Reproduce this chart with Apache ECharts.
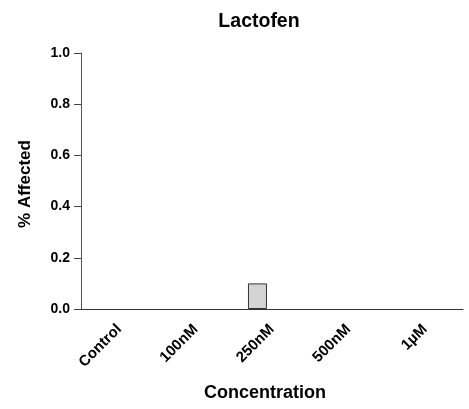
<!DOCTYPE html>
<html><head><meta charset="utf-8">
<script src="https://cdn.jsdelivr.net/npm/echarts@6/dist/echarts.min.js"></script>
<style>html,body{margin:0;padding:0;background:#fff}#c{width:469px;height:409px}</style>
</head><body><div id="c"></div>
<script>
const categories = ['Control', '100nM', '250nM', '500nM', '1µM'];
const affected = [0, 0, 0.1, 0, 0];
const companion = [0, 0, 0, 0, 0];
const yTicks = [0, 0.2, 0.4, 0.6, 0.8, 1.0];

const font = 'Liberation Sans, Arial, sans-serif';
const toItems = arr => arr.map(v => ({ value: v, itemStyle: { borderWidth: v === 0 ? 0 : 1 } }));
const chart = echarts.init(document.getElementById('c'));
chart.setOption({
  animation: false,
  title: {
    text: 'Lactofen', left: 254, top: 7, textAlign: 'center',
    textStyle: { fontFamily: font, fontWeight: 'bold', fontSize: 19.5, color: '#000' }
  },
  grid: { left: 81, right: 6, top: 53, bottom: 100 },
  xAxis: {
    type: 'category', data: categories,
    name: 'Concentration', nameLocation: 'middle', nameGap: 75,
    nameTextStyle: { fontFamily: font, fontWeight: 'bold', fontSize: 18, color: '#000', padding: [0, 0, 0, -14] },
    axisLine: { lineStyle: { color: '#333', width: 1 } },
    axisTick: { alignWithLabel: true, length: 6, lineStyle: { color: '#444', width: 2 } },
    axisLabel: { rotate: 45, interval: 0, margin: 18, fontFamily: font, fontWeight: 'bold', fontSize: 15, color: '#000' }
  },
  yAxis: {
    type: 'value', min: 0, max: 1, interval: 0.2,
    name: '% Affected', nameLocation: 'middle', nameGap: 47,
    nameTextStyle: { fontFamily: font, fontWeight: 'bold', fontSize: 17, color: '#000', padding: [0, 0, 0, -6] },
    axisLine: { show: true, lineStyle: { color: '#555', width: 1 } },
    axisTick: { show: true, length: 7, lineStyle: { color: '#444' } },
    splitLine: { show: false },
    axisLabel: { margin: 11, fontFamily: font, fontWeight: 'bold', fontSize: 14, color: '#000',
      formatter: v => yTicks.includes(+v.toFixed(1)) ? v.toFixed(1) : '' }
  },
  series: [
    { type: 'bar', data: toItems(affected), barWidth: 19, barGap: '53%',
      itemStyle: { color: '#d4d4d4', borderColor: '#333' } },
    { type: 'bar', data: toItems(companion), barWidth: 19,
      itemStyle: { color: '#ffffff', borderColor: '#333' } }
  ]
});
</script></body></html>
